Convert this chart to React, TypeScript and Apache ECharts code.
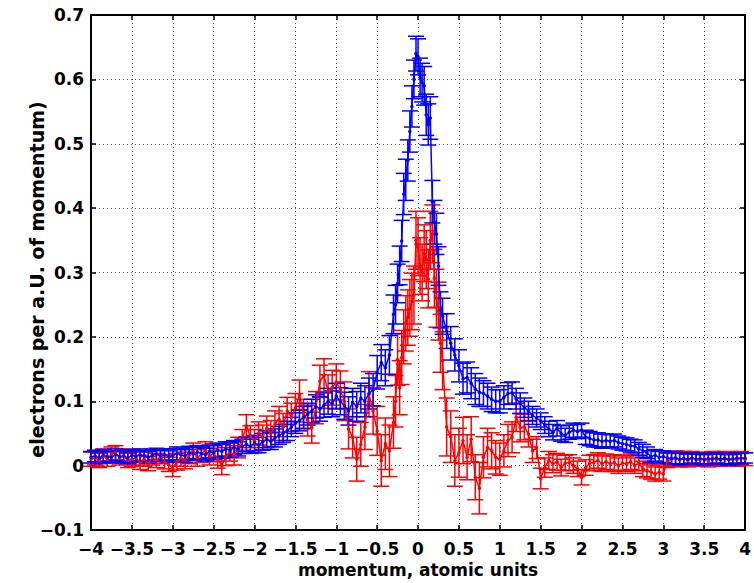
import React, { useEffect, useRef } from "react";
import * as echarts from "echarts";

// shared momentum bins (atomic units)
const momentum = [
  -4.0, -3.95, -3.9, -3.85, -3.8, -3.75, -3.7, -3.65, -3.6, -3.55,
  -3.5, -3.45, -3.4, -3.35, -3.3, -3.25, -3.2, -3.15, -3.1, -3.05,
  -3.0, -2.95, -2.9, -2.85, -2.8, -2.75, -2.7, -2.65, -2.6, -2.55,
  -2.5, -2.45, -2.4, -2.35, -2.3, -2.25, -2.2, -2.15, -2.1, -2.05,
  -2.0, -1.95, -1.9, -1.85, -1.8, -1.75, -1.7, -1.65, -1.6, -1.55,
  -1.5, -1.45, -1.4, -1.35, -1.3, -1.25, -1.2, -1.15, -1.1, -1.05,
  -1.0, -0.95, -0.9, -0.85, -0.8, -0.75, -0.7, -0.65, -0.6, -0.55,
  -0.5, -0.45, -0.4, -0.35, -0.3,
  -0.275, -0.25, -0.225, -0.2, -0.175, -0.15, -0.125, -0.1, -0.075, -0.05,
  -0.025, 0.0, 0.025, 0.05, 0.075, 0.1, 0.125, 0.15, 0.175, 0.2,
  0.225, 0.25, 0.275,
  0.3, 0.35, 0.4, 0.45, 0.5, 0.55, 0.6, 0.65, 0.7, 0.75,
  0.8, 0.85, 0.9, 0.95, 1.0, 1.05, 1.1, 1.15, 1.2, 1.25,
  1.3, 1.35, 1.4, 1.45, 1.5, 1.55, 1.6, 1.65, 1.7, 1.75,
  1.8, 1.85, 1.9, 1.95, 2.0, 2.05, 2.1, 2.15, 2.2, 2.25,
  2.3, 2.35, 2.4, 2.45, 2.5, 2.55, 2.6, 2.65, 2.7, 2.75,
  2.8, 2.85, 2.9, 2.95, 3.0, 3.05, 3.1, 3.15, 3.2, 3.25,
  3.3, 3.35, 3.4, 3.45, 3.5, 3.55, 3.6, 3.65, 3.7, 3.75,
  3.8, 3.85, 3.9, 3.95, 4.0,
];

const blueValues = [
  0.013, 0.015, 0.012, 0.016, 0.014, 0.013, 0.017, 0.014, 0.015, 0.012,
  0.016, 0.014, 0.017, 0.015, 0.013, 0.016, 0.018, 0.015, 0.017, 0.014,
  0.016, 0.019, 0.017, 0.015, 0.02, 0.018, 0.021, 0.019, 0.017, 0.022,
  0.02, 0.024, 0.022, 0.026, 0.024, 0.028, 0.026, 0.03, 0.033, 0.03,
  0.035, 0.032, 0.037, 0.041, 0.038, 0.043, 0.047, 0.05, 0.054, 0.06,
  0.066, 0.07, 0.075, 0.08, 0.085, 0.092, 0.088, 0.094, 0.1, 0.096,
  0.108, 0.1, 0.093, 0.085, 0.098, 0.092, 0.105, 0.1, 0.112, 0.118,
  0.145, 0.16, 0.152, 0.172, 0.235,
  0.25, 0.283, 0.311, 0.349, 0.422, 0.444, 0.474, 0.519, 0.558, 0.6,
  0.64, 0.635, 0.603, 0.595, 0.59, 0.545, 0.53, 0.54, 0.41, 0.378,
  0.36, 0.31, 0.242,
  0.232, 0.209, 0.19, 0.172, 0.155, 0.135, 0.137, 0.128, 0.119, 0.114,
  0.112, 0.108, 0.103, 0.1, 0.1, 0.106, 0.112, 0.113, 0.104, 0.097,
  0.09, 0.085, 0.078, 0.074, 0.069, 0.063, 0.057, 0.052, 0.058, 0.05,
  0.047, 0.052, 0.055, 0.053, 0.055, 0.044, 0.042, 0.04, 0.04, 0.038,
  0.039, 0.038, 0.039, 0.036, 0.034, 0.033, 0.031, 0.03, 0.026, 0.023,
  0.02, 0.014, 0.016, 0.013, 0.014, 0.012, 0.011, 0.012, 0.01, 0.011,
  0.01, 0.012, 0.01, 0.011, 0.009, 0.011, 0.01, 0.012, 0.01, 0.011,
  0.009, 0.01, 0.012, 0.011, 0.012,
];

const blueErrors = [
  0.009, 0.009, 0.009, 0.009, 0.009, 0.009, 0.009, 0.009, 0.009, 0.009,
  0.009, 0.009, 0.009, 0.009, 0.009, 0.009, 0.009, 0.009, 0.009, 0.009,
  0.01, 0.01, 0.01, 0.01, 0.01, 0.01, 0.01, 0.01, 0.01, 0.01,
  0.011, 0.011, 0.011, 0.011, 0.011, 0.011, 0.011, 0.011, 0.011, 0.011,
  0.012, 0.012, 0.013, 0.013, 0.013, 0.014, 0.014, 0.014, 0.015, 0.015,
  0.016, 0.016, 0.017, 0.017, 0.018, 0.018, 0.019, 0.019, 0.02, 0.02,
  0.02, 0.021, 0.021, 0.022, 0.022, 0.023, 0.023, 0.024, 0.024, 0.025,
  0.026, 0.028, 0.028, 0.03, 0.03,
  0.03, 0.03, 0.03, 0.032, 0.032, 0.032, 0.032, 0.032, 0.032, 0.03,
  0.027, 0.028, 0.03, 0.03, 0.03, 0.032, 0.032, 0.033, 0.033, 0.034,
  0.032, 0.03, 0.028,
  0.028, 0.027, 0.026, 0.025, 0.025, 0.024, 0.024, 0.024, 0.024, 0.022,
  0.02, 0.02, 0.019, 0.018, 0.018, 0.018, 0.017, 0.017, 0.016, 0.016,
  0.015, 0.015, 0.014, 0.014, 0.013, 0.013, 0.012, 0.012, 0.012, 0.012,
  0.011, 0.011, 0.011, 0.011, 0.011, 0.011, 0.011, 0.011, 0.011, 0.011,
  0.01, 0.01, 0.01, 0.01, 0.01, 0.01, 0.01, 0.01, 0.01, 0.01,
  0.009, 0.009, 0.009, 0.009, 0.009, 0.009, 0.009, 0.009, 0.009, 0.009,
  0.008, 0.008, 0.008, 0.008, 0.008, 0.008, 0.008, 0.008, 0.008, 0.008,
  0.008, 0.008, 0.008, 0.008, 0.008,
];

const redValues = [
  0.01, 0.012, 0.008, 0.015, 0.01, 0.018, 0.02, 0.012, 0.015, 0.008,
  0.01, 0.012, 0.005, 0.01, 0.003, 0.012, 0.008, 0.014, 0.006, 0.002,
  -0.004, 0.006, 0.012, 0.008, 0.016, 0.022, 0.012, 0.018, 0.024, 0.014,
  0.02, 0.01, 0.0, 0.014, 0.022, 0.016, 0.028, 0.04, 0.062, 0.045,
  0.038, 0.05, 0.044, 0.058, 0.05, 0.065, 0.072, 0.06, 0.085, 0.075,
  0.09, 0.11, 0.08, 0.07, 0.059, 0.09, 0.131, 0.14, 0.115, 0.121,
  0.13, 0.118, 0.1, 0.057, 0.044, 0.01, 0.033, 0.06, 0.111, 0.085,
  0.054, 0.008, 0.034, 0.023, 0.067,
  0.1, 0.165, 0.121, 0.168, 0.2, 0.221, 0.23, 0.245, 0.255, 0.265,
  0.35, 0.34, 0.31, 0.3, 0.33, 0.32, 0.29, 0.35, 0.36, 0.291,
  0.26, 0.24, 0.19,
  0.163, 0.06, 0.045, 0.008, 0.02, 0.039, 0.013, 0.041, -0.018, -0.035,
  0.013, 0.028, 0.023, 0.013, 0.01, 0.023, 0.039, 0.044, 0.075, 0.059,
  0.06, 0.049, 0.023, 0.028, -0.02, -0.003, 0.008, 0.003, 0.006, -0.003,
  0.004, 0.005, 0.0, -0.005, -0.018, -0.003, 0.004, 0.005, 0.008, 0.003,
  0.006, 0.003, 0.005, 0.0, 0.004, 0.003, 0.006, 0.0, 0.004, -0.005,
  -0.008, -0.01, -0.013, -0.01, -0.013, 0.008, 0.01, 0.012, 0.009, 0.011,
  0.008, 0.012, 0.01, 0.009, 0.011, 0.008, 0.012, 0.01, 0.009, 0.012,
  0.01, 0.011, 0.009, 0.012, 0.01,
];

const redErrors = [
  0.011, 0.011, 0.011, 0.011, 0.011, 0.011, 0.011, 0.011, 0.011, 0.011,
  0.011, 0.011, 0.011, 0.011, 0.011, 0.011, 0.011, 0.011, 0.011, 0.011,
  0.013, 0.013, 0.013, 0.013, 0.013, 0.013, 0.013, 0.013, 0.013, 0.013,
  0.014, 0.014, 0.014, 0.014, 0.015, 0.015, 0.016, 0.016, 0.017, 0.017,
  0.018, 0.018, 0.019, 0.019, 0.02, 0.02, 0.02, 0.021, 0.021, 0.022,
  0.022, 0.023, 0.023, 0.024, 0.024, 0.025, 0.025, 0.026, 0.026, 0.027,
  0.028, 0.029, 0.03, 0.031, 0.032, 0.034, 0.034, 0.035, 0.035, 0.036,
  0.038, 0.04, 0.04, 0.04, 0.04,
  0.04, 0.04, 0.042, 0.042, 0.042, 0.043, 0.043, 0.044, 0.044, 0.045,
  0.045, 0.045, 0.044, 0.044, 0.044, 0.045, 0.045, 0.045, 0.045, 0.045,
  0.045, 0.045, 0.045,
  0.045, 0.045, 0.04, 0.04, 0.038, 0.036, 0.035, 0.035, 0.035, 0.04,
  0.032, 0.03, 0.028, 0.026, 0.025, 0.025, 0.025, 0.024, 0.022, 0.022,
  0.02, 0.02, 0.018, 0.017, 0.016, 0.015, 0.014, 0.014, 0.013, 0.013,
  0.012, 0.012, 0.012, 0.012, 0.012, 0.012, 0.012, 0.012, 0.012, 0.012,
  0.012, 0.012, 0.012, 0.012, 0.012, 0.012, 0.012, 0.012, 0.012, 0.012,
  0.011, 0.011, 0.011, 0.011, 0.011, 0.011, 0.011, 0.011, 0.011, 0.011,
  0.01, 0.01, 0.01, 0.01, 0.01, 0.01, 0.01, 0.01, 0.01, 0.01,
  0.01, 0.01, 0.01, 0.01, 0.01,
];

const xTicks = { min: -4, max: 4, interval: 0.5 };
const yTicks = { min: -0.1, max: 0.7, interval: 0.1 };
const xTitle = "momentum, atomic units";
const yTitle = "electrons per a.U. of momentum)";

const BLUE = "#0000ff";
const RED = "#ff0000";
const FONT = "DejaVu Sans";

function fmt(v: number): string {
  const r = Math.round(v * 10) / 10;
  if (r === 0) return "0";
  return r < 0 ? "\u2212" + String(Math.abs(r)) : String(r);
}

function errorBarSeries(values: number[], errors: number[], color: string) {
  const data = momentum.map((x, i) => [x, values[i] - errors[i], values[i] + errors[i]]);
  return {
    type: "custom",
    data,
    encode: { x: 0, y: [1, 2] },
    silent: true,
    renderItem: (params: any, api: any) => {
      const x = api.value(0);
      const lo = api.value(1);
      const hi = api.value(2);
      const p1 = api.coord([x, hi]);
      const p2 = api.coord([x, lo]);
      const hw = 8;
      const style = { stroke: color, lineWidth: 1.5 };
      return {
        type: "group",
        children: [
          { type: "line", shape: { x1: p1[0], y1: p1[1], x2: p2[0], y2: p2[1] }, style },
          { type: "line", shape: { x1: p1[0] - hw, y1: p1[1], x2: p1[0] + hw, y2: p1[1] }, style },
          { type: "line", shape: { x1: p2[0] - hw, y1: p2[1], x2: p2[0] + hw, y2: p2[1] }, style },
        ],
      };
    },
  };
}

function lineSeries(values: number[], color: string) {
  return {
    type: "line",
    data: momentum.map((x, i) => [x, values[i]]),
    symbol: "circle",
    symbolSize: 3.5,
    showSymbol: true,
    itemStyle: { color },
    lineStyle: { color, width: 1.5 },
    silent: true,
  };
}

export default function App() {
  const ref = useRef<HTMLDivElement>(null);
  useEffect(() => {
    if (!ref.current) return;
    const chart = echarts.init(ref.current, null, { renderer: "svg" });
    const labelStyle = { color: "#000", fontFamily: FONT, fontWeight: "bold" as const, fontSize: 17 };
    const frameLine = { show: true, lineStyle: { color: "#000", width: 2 } };
    const tick = { show: true, inside: true, length: 5, lineStyle: { color: "#000", width: 1.5 } };
    const grid = { show: true, lineStyle: { color: "#555", type: [1, 3], width: 1 } };
    chart.setOption({
      animation: false,
      backgroundColor: "#fff",
      grid: { left: 91, right: 7, top: 15, bottom: 50, containLabel: false },
      xAxis: [
        {
          type: "value",
          ...xTicks,
          position: "bottom",
          axisLine: { ...frameLine, onZero: false },
          axisTick: tick,
          splitLine: grid,
          axisLabel: { ...labelStyle, margin: 10, formatter: fmt },
          name: xTitle,
          nameLocation: "middle",
          nameGap: 31,
          nameMoveOverlap: false,
          nameTextStyle: { ...labelStyle },
        },
        {
          type: "value",
          ...xTicks,
          position: "top",
          axisLine: { ...frameLine, onZero: false },
          axisTick: tick,
          splitLine: { show: false },
          axisLabel: { show: false },
        },
      ],
      yAxis: [
        {
          type: "value",
          ...yTicks,
          position: "left",
          axisLine: { ...frameLine, onZero: false },
          axisTick: tick,
          splitLine: grid,
          axisLabel: { ...labelStyle, margin: 7, formatter: fmt },
          name: yTitle,
          nameLocation: "middle",
          nameGap: 45,
          nameMoveOverlap: false,
          nameTextStyle: { ...labelStyle, fontSize: 19, padding: [0, 14, 0, 0] },
        },
        {
          type: "value",
          ...yTicks,
          position: "right",
          axisLine: { ...frameLine, onZero: false },
          axisTick: tick,
          splitLine: { show: false },
          axisLabel: { show: false },
        },
      ],
      series: [
        errorBarSeries(redValues, redErrors, RED),
        lineSeries(redValues, RED),
        errorBarSeries(blueValues, blueErrors, BLUE),
        lineSeries(blueValues, BLUE),
      ],
    });
    return () => chart.dispose();
  }, []);
  return (
    <div
      ref={ref}
      style={{ position: "fixed", left: 0, top: 0, width: 754, height: 583, background: "#fff" }}
    />
  );
}
